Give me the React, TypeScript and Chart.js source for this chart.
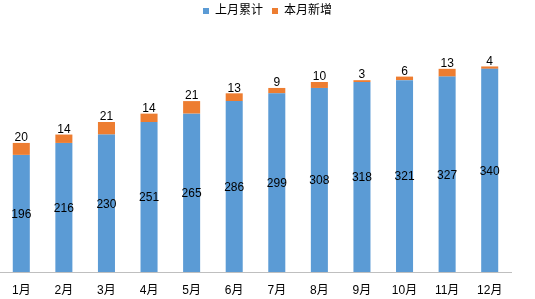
import React, { useEffect, useRef } from "react";
import { Chart, registerables } from "chart.js";

Chart.register(...registerables);

const categories = ["1月", "2月", "3月", "4月", "5月", "6月", "7月", "8月", "9月", "10月", "11月", "12月"];
const prevTotal = [196, 216, 230, 251, 265, 286, 299, 308, 318, 321, 327, 340];
const newThisMonth = [20, 14, 21, 14, 21, 13, 9, 10, 3, 6, 13, 4];
const seriesNames = ["上月累计", "本月新增"];

const FONT = '"Liberation Sans", "Noto Sans CJK SC", sans-serif';

const labelPlugin = {
  id: "barLabels",
  afterDatasetsDraw(chart: any) {
    const ctx = chart.ctx;
    ctx.save();
    ctx.font = `12px ${FONT}`;
    ctx.fillStyle = "#000";
    ctx.textAlign = "center";
    chart.data.datasets.forEach((ds: any, di: number) => {
      const meta = chart.getDatasetMeta(di);
      meta.data.forEach((bar: any, i: number) => {
        const v = ds.data[i];
        if (di === 0) {
          ctx.textBaseline = "middle";
          ctx.fillText(String(v), bar.x, (bar.y + bar.base) / 2 + 1);
        } else {
          ctx.textBaseline = "bottom";
          ctx.fillText(String(v), bar.x, bar.y + 1);
        }
      });
    });
    ctx.restore();
  },
};

export default function App() {
  const ref = useRef<HTMLCanvasElement>(null);
  useEffect(() => {
    if (!ref.current) return;
    const chart = new Chart(ref.current, {
      type: "bar",
      data: {
        labels: categories,
        datasets: [
          { label: seriesNames[0], data: prevTotal, backgroundColor: "#5B9BD5", categoryPercentage: 0.8, barPercentage: 0.5 },
          { label: seriesNames[1], data: newThisMonth, backgroundColor: "#ED7D31", categoryPercentage: 0.8, barPercentage: 0.5 },
        ],
      },
      options: {
        responsive: false,
        animation: false,
        layout: { padding: { left: 0, right: 0, top: -4, bottom: 0 } },
        plugins: {
          legend: {
            position: "top",
            labels: {
              boxWidth: 6,
              boxHeight: 6,
              padding: 9,
              color: "#000",
              font: { size: 12, family: FONT },
            },
          },
          tooltip: { enabled: false },
        },
        scales: {
          x: {
            stacked: true,
            grid: { drawOnChartArea: false, drawTicks: false },
            border: { display: true, color: "#bfbfbf", width: 1 },
            ticks: { color: "#000", padding: 11, font: { size: 12, family: FONT } },
            afterFit: (scale: any) => {
              scale.height = 27;
            },
          },
          y: {
            stacked: true,
            position: "right",
            min: 0,
            max: 410,
            grid: { display: false, drawTicks: false },
            border: { display: false },
            ticks: { display: false },
            afterFit: (scale: any) => {
              scale.width = 24;
            },
          },
        },
      },
      plugins: [labelPlugin],
    });
    return () => chart.destroy();
  }, []);
  return (
    <div style={{ position: "absolute", left: 0, top: 0, width: 535, height: 299, background: "#fff" }}>
      <canvas ref={ref} width={535} height={299} />
    </div>
  );
}
